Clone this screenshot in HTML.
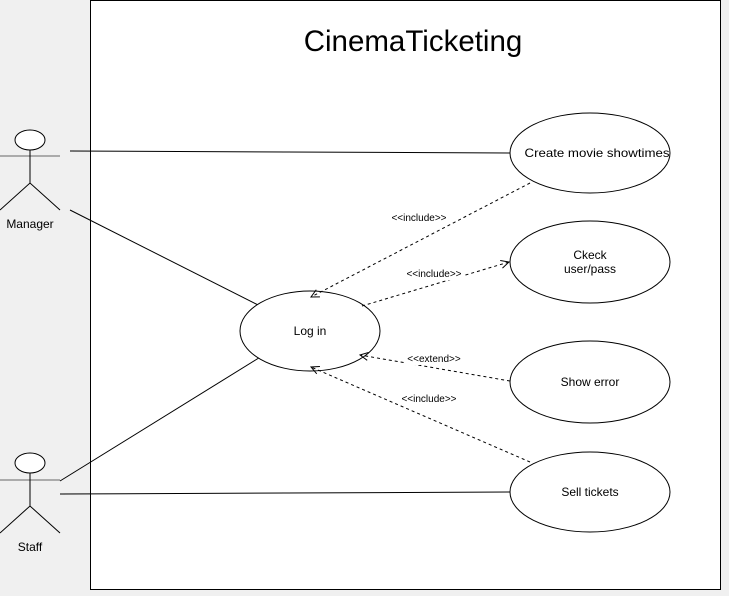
<!DOCTYPE html>
<html><head><style>body{margin:0;background:#f0f0f0}</style></head><body>
<svg width="729" height="591" xmlns="http://www.w3.org/2000/svg" font-family="Liberation Sans, sans-serif">
<rect x="0" y="0" width="729" height="591" fill="#f0f0f0"/>
<rect x="90.5" y="0.5" width="630" height="589" fill="#fff" stroke="#000"/>
<text x="413" y="51" font-size="29.5" text-anchor="middle">CinemaTicketing</text>
<defs><marker id="a" markerWidth="10" markerHeight="10" refX="9" refY="5" orient="auto"><path d="M1,1 L9,5 L1,9" fill="none" stroke="#000"/></marker></defs>
<g stroke="#000" fill="none" stroke-width="1">
<ellipse cx="30" cy="140" rx="15" ry="10" fill="#fff"/>
<line x1="0" y1="156" x2="60" y2="156" stroke="#666"/>
<line x1="30" y1="150" x2="30" y2="183"/>
<path d="M0,210 L30,183 L60,210"/>
<ellipse cx="30" cy="463" rx="15" ry="10" fill="#fff"/>
<line x1="0" y1="480" x2="60" y2="480" stroke="#666"/>
<line x1="30" y1="473" x2="30" y2="506"/>
<path d="M0,533 L30,506 L60,533"/>
<line x1="70" y1="151" x2="510" y2="153"/>
<line x1="70" y1="210" x2="262" y2="307"/>
<line x1="60" y1="481" x2="262" y2="356"/>
<line x1="60" y1="494" x2="510" y2="492"/>
<ellipse cx="590" cy="153" rx="80" ry="40" fill="#fff"/>
<ellipse cx="590" cy="262" rx="80" ry="41" fill="#fff"/>
<ellipse cx="590" cy="382" rx="80" ry="41" fill="#fff"/>
<ellipse cx="590" cy="492" rx="80" ry="40" fill="#fff"/>
<ellipse cx="310" cy="331" rx="70" ry="40" fill="#fff"/>
<g stroke-dasharray="3,3">
<line x1="530" y1="183" x2="311" y2="297" marker-end="url(#a)"/>
<line x1="362" y1="306" x2="509" y2="262" marker-end="url(#a)"/>
<line x1="510" y1="381" x2="360" y2="355" marker-end="url(#a)"/>
<line x1="530" y1="462" x2="311" y2="367" marker-end="url(#a)"/>
</g></g>
<g font-size="12" text-anchor="middle" fill="#000">
<text x="30" y="228">Manager</text>
<text x="30" y="551">Staff</text>
<text x="597" y="157" textLength="145" lengthAdjust="spacingAndGlyphs">Create movie showtimes</text>
<text x="590" y="259">Ckeck</text><text x="590" y="273">user/pass</text>
<text x="590" y="386">Show error</text>
<text x="590" y="496">Sell tickets</text>
<text x="310" y="335">Log in</text>
</g>
<g font-size="10" text-anchor="middle">
<rect x="388" y="212" width="62" height="12" fill="#fff"/><text x="419" y="221">&lt;&lt;include&gt;&gt;</text>
<rect x="403" y="268" width="62" height="12" fill="#fff"/><text x="434" y="277">&lt;&lt;include&gt;&gt;</text>
<rect x="404" y="353" width="60" height="12" fill="#fff"/><text x="434" y="362">&lt;&lt;extend&gt;&gt;</text>
<rect x="398" y="393" width="62" height="12" fill="#fff"/><text x="429" y="402">&lt;&lt;include&gt;&gt;</text>
</g>
</svg>
</body></html>
